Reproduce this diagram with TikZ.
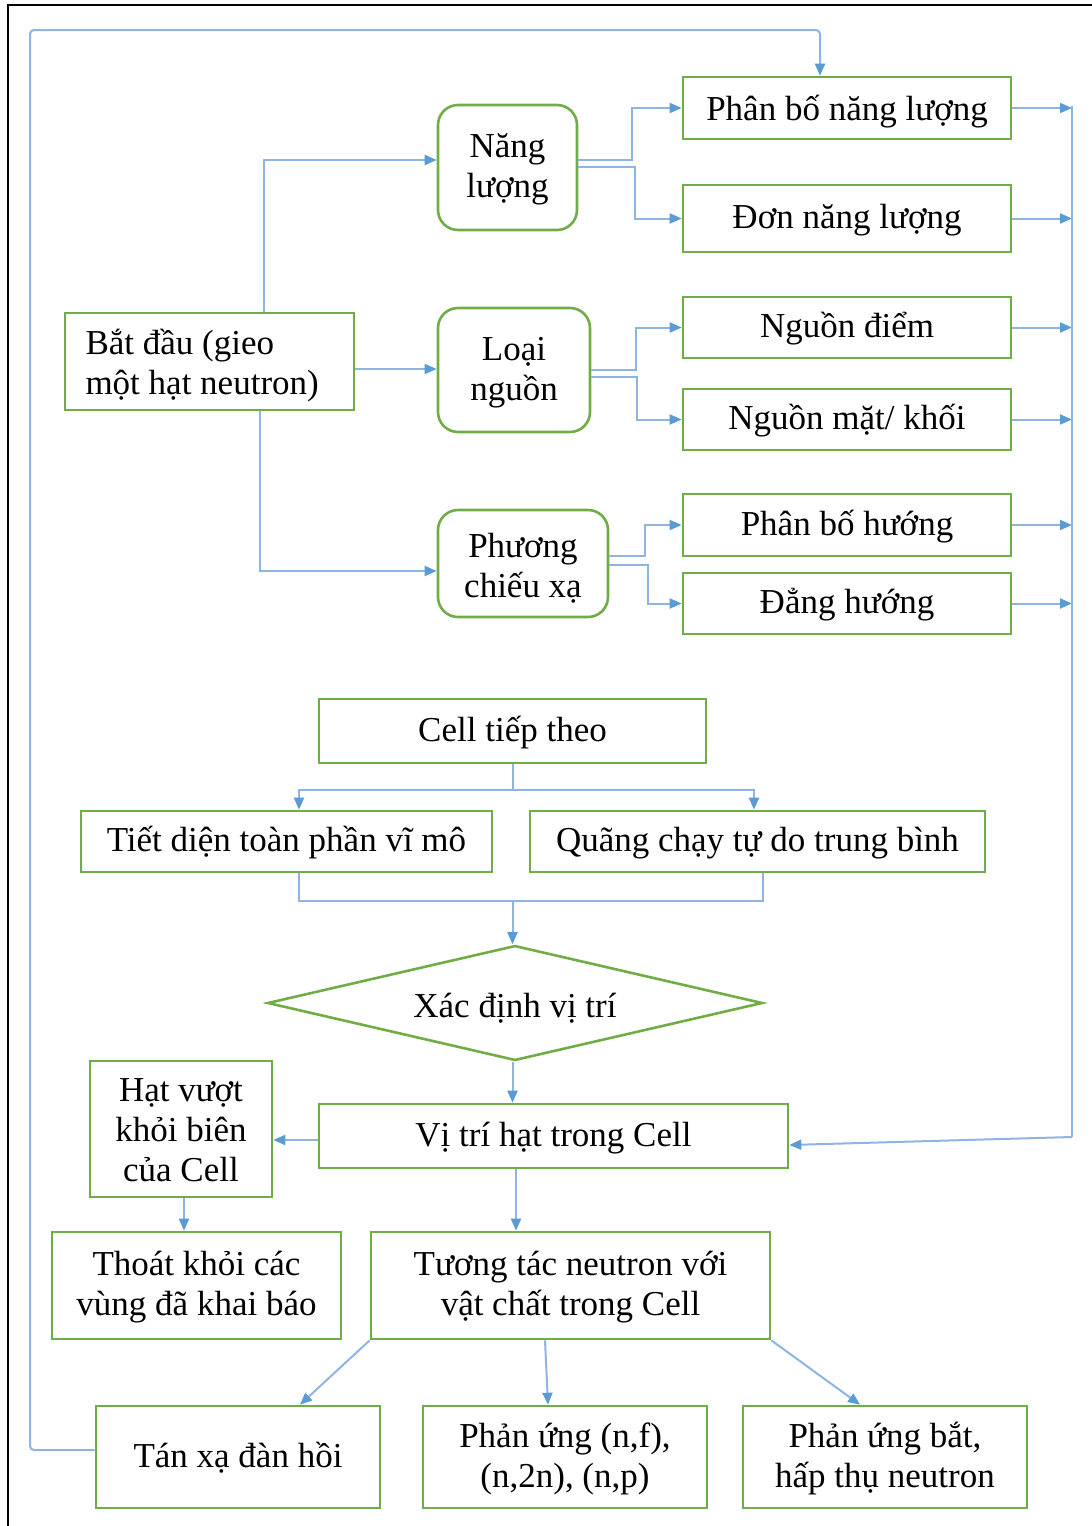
\documentclass[tikz,border=0pt]{standalone}
\usepackage{fontspec}
\setmainfont{Liberation Serif}
\usetikzlibrary{arrows.meta,shapes.geometric}
\definecolor{boxgreen}{RGB}{112,173,71}
\definecolor{linkblue}{RGB}{141,180,226}
\definecolor{tipblue}{RGB}{91,155,213}
\tikzset{
  top strut/.style={execute at begin node={\rule{0pt}{#1}}},
  bottom strut/.style={execute at end node={\rule[-#1]{0pt}{#1}}},
  box/.style={draw=boxgreen, line width=1.3pt, rectangle, inner sep=0pt,
    font=\fontsize{17.5pt}{20pt}\selectfont, align=center,
    % struts fix where a label sits in its box
    top strut=17pt, bottom strut=7pt},
  % several lines: a fixed text width, so that the struts take effect
  lines/.style 2 args={text width=#1, align=flush center, bottom strut=5pt, top strut=#2},
  rbox/.style={box, rounded corners=10pt},
  link/.style={draw=linkblue, line width=1pt},
  conn/.style={link, -{Triangle[length=6pt,width=5pt,color=tipblue]}},
}
\begin{document}
\begin{tikzpicture}[x=0.5pt,y=-0.5pt]
\useasboundingbox (0,0) rectangle (1092,1526);
\draw[black, line width=1.2pt] (8,1526) -- (8,5) -- (1092,5);

% start box and its three branches
\node[box, lines={124pt}{20pt}, align=flush left, minimum width=144.5pt, minimum height=48.5pt] (BD) at (209.5,361.5) {Bắt đầu (gieo\\một hạt neutron)};
\node[rbox, lines={65.5pt}{14pt}, minimum width=69.5pt, minimum height=62.5pt] (NL) at (507.5,167.5) {Năng\\lượng};
\node[rbox, lines={72pt}{12pt}, minimum width=76pt, minimum height=62pt] (LN) at (514,370) {Loại\\nguồn};
\node[rbox, lines={81pt}{21pt}, minimum width=85pt, minimum height=53.5pt] (PCX) at (523,563.5) {Phương\\chiếu xạ};

% options of each branch
\node[box, top strut=19pt, minimum width=164pt, minimum height=31pt] (PBNL) at (847,108) {Phân bố năng lượng};
\node[box, minimum width=164pt, minimum height=33.5pt] (DNL) at (847,218.5) {Đơn năng lượng};
\node[box, minimum width=164pt, minimum height=30.5pt] (ND) at (847,327.5) {Nguồn điểm};
\node[box, minimum width=164pt, minimum height=30.5pt] (NMK) at (847,419.5) {Nguồn mặt/ khối};
\node[box, minimum width=164pt, minimum height=31pt] (PBH) at (847,525) {Phân bố hướng};
\node[box, minimum width=164pt, minimum height=30.5pt] (DH) at (847,603.5) {Đẳng hướng};

% transport part
\node[box, minimum width=193.5pt, minimum height=32pt] (Cell) at (512.5,731) {Cell tiếp theo};
\node[box, minimum width=205.5pt, minimum height=30.5pt] (TD) at (286.5,841.5) {Tiết diện toàn phần vĩ mô};
\node[box, minimum width=227.5pt, minimum height=30.5pt] (QC) at (757.5,841.5) {Quãng chạy tự do trung bình};
\node[box, top strut=21pt, shape=diamond, aspect=4.3, minimum width=247.5pt, minimum height=57.5pt] (dia) at (515,1003) {Xác định vị trí};
\node[box, minimum width=234.5pt, minimum height=32pt] (VT) at (553.5,1136) {Vị trí hạt trong Cell};
\node[box, lines={87pt}{19.5pt}, minimum width=91pt, minimum height=68pt] (HV) at (181,1129) {Hạt vượt\\khỏi biên\\của Cell};
\node[box, lines={140.5pt}{16pt}, minimum width=144.5pt, minimum height=53.5pt] (TK) at (196.5,1285.5) {Thoát khỏi các\\vùng đã khai báo};
\node[box, lines={195.5pt}{16pt}, minimum width=199.5pt, minimum height=53.5pt] (TT) at (570.5,1285.5) {Tương tác neutron với\\vật chất trong Cell};
\node[box, minimum width=142pt, minimum height=51pt] (TX) at (238,1457) {Tán xạ đàn hồi};
\node[box, lines={138pt}{16.5pt}, minimum width=142pt, minimum height=51pt] (PU) at (565,1457) {Phản ứng (n,f),\\(n,2n), (n,p)};
\node[box, lines={138pt}{16.5pt}, minimum width=142pt, minimum height=51pt] (PB) at (885,1457) {Phản ứng bắt,\\hấp thụ neutron};

% routing points
\coordinate (a1) at (264,160);
\coordinate (a2) at (0,369);
\coordinate (a3) at (260,571);
\coordinate (b1) at (632,160);
\coordinate (b2) at (635,167);
\coordinate (b3) at (636,370);
\coordinate (b4) at (637,377);
\coordinate (b5) at (645,556);
\coordinate (b6) at (648,565);
\coordinate (bus) at (1072,106);
\coordinate (busend) at (1072,1137);
\coordinate (l1) at (30,1450);
\coordinate (l2) at (30,30);
\coordinate (l3) at (820,30);
\coordinate (m2) at (299,790);
\coordinate (m3) at (754,790);
\coordinate (n1) at (299,901);
\coordinate (n2) at (763,901);
\coordinate (h1) at (0,1140);
\coordinate (k1) at (184,0);
\coordinate (k2) at (516,0);
\coordinate (k3) at (300,0);
\coordinate (k4) at (545,0);
\coordinate (k5) at (548,0);
\coordinate (k6) at (860,0);

% start to the three settings
\draw[conn] (BD.north -| a1) |- (NL.west |- a1);
\draw[conn] (BD.east |- a2) -- (LN.west |- a2);
\draw[conn] (BD.south -| a3) |- (PCX.west |- a3);

% settings to their options
\draw[conn] (NL.east |- b1) -- (b1) |- (PBNL.west);
\draw[conn] (NL.east |- b2) -- (b2) |- (DNL.west);
\draw[conn] (LN.east |- b3) -- (b3) |- (ND.west);
\draw[conn] (LN.east |- b4) -- (b4) |- (NMK.west);
\draw[conn] (PCX.east |- b5) -- (b5) |- (PBH.west);
\draw[conn] (PCX.east |- b6) -- (b6) |- (DH.west);

% options collected on the right bus
\foreach \n in {PBNL,DNL,ND,NMK,PBH,DH}
  \draw[conn] (\n.east) -- (\n.east -| bus);
\draw[link] (bus) -- (busend);
\draw[conn] (busend) -- ([yshift=-4.5pt]VT.east);

% loop back after elastic scattering
\draw[conn, rounded corners=2pt] (TX.west |- l1) -- (l1) -- (l2) -| (PBNL.north -| l3);

% cell data
\draw[link] (Cell.south) -- (Cell.south |- m2);
\draw[conn] (Cell.south |- m2) -| (TD.north -| m2);
\draw[conn] (Cell.south |- m3) -| (QC.north -| m3);
\draw[link] (TD.south -| n1) -- (n1) -- (n2) -- (QC.south -| n2);
\draw[conn] (Cell.south |- n1) -- (Cell.south |- dia.north);

% position and interaction
\draw[conn] (dia.south -| Cell.south) -- (VT.north -| Cell.south);
\draw[conn] (VT.west |- h1) -- (HV.east |- h1);
\draw[conn] (HV.south -| k1) -- (TK.north -| k1);
\draw[conn] (VT.south -| k2) -- (TT.north -| k2);
\draw[conn] (TT.south west) -- (TX.north -| k3);
\draw[conn] (TT.south -| k4) -- (PU.north -| k5);
\draw[conn] (TT.south east) -- (PB.north -| k6);
\end{tikzpicture}
\end{document}
